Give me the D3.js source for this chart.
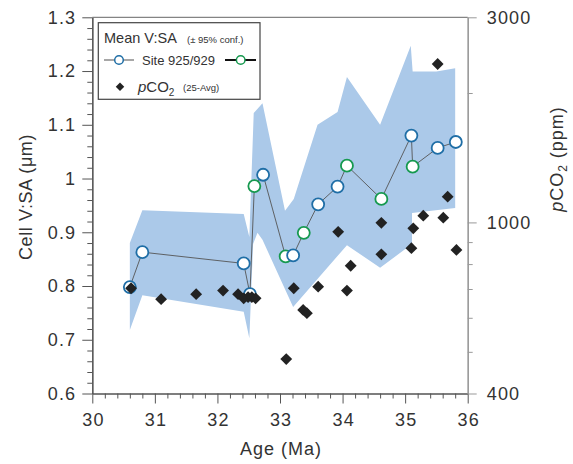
<!DOCTYPE html>
<html>
<head>
<meta charset="utf-8">
<script src="https://cdn.jsdelivr.net/npm/d3@7"></script>
<style>
  body { margin: 0; background: #fff; }
  text { font-family: "Liberation Sans", Arial, Helvetica, sans-serif; fill: #333; }
</style>
</head>
<body>
<div id="chart-area"></div>
<script>
// Data
var ageTicks = [30, 31, 32, 33, 34, 35, 36];
var vsaTicks = [0.6, 0.7, 0.8, 0.9, 1.0, 1.1, 1.2, 1.3];
var co2Ticks = [400, 1000, 3000];
var co2Minor = [500, 600, 700, 800, 900, 2000];

var siteAge = [30.60, 30.80, 32.42, 32.52, 32.59, 32.73, 33.09, 33.21, 33.38, 33.61, 33.92, 34.07, 34.62, 35.10, 35.12, 35.52, 35.81];
var siteVsa = [0.798, 0.863, 0.842, 0.785, 0.986, 1.007, 0.855, 0.857, 0.899, 0.952, 0.985, 1.024, 0.962, 1.080, 1.022, 1.057, 1.068];
var siteId  = ["925", "925", "925", "925", "929", "925", "929", "925", "929", "925", "925", "929", "929", "925", "929", "925", "925"];

var co2Age = [30.62, 31.10, 31.66, 32.09, 32.33, 32.42, 32.49, 32.55, 32.61, 33.10, 33.22, 33.37, 33.43, 33.61, 33.93, 34.07, 34.13, 34.62, 34.62, 35.10, 35.13, 35.29, 35.52, 35.61, 35.68, 35.82];
var co2Ppm = [703, 663, 681, 694, 681, 666, 670, 670, 666, 481, 703, 626, 615, 709, 951, 694, 793, 843, 998, 871, 969, 1037, 2336, 1026, 1148, 863];

var bandUpperAge = [30.60, 30.80, 32.42, 32.51, 32.58, 32.72, 33.08, 33.22, 33.60, 33.92, 34.07, 34.60, 35.09, 35.12, 35.50, 35.80];
var bandUpperVal = [0.880, 0.941, 0.934, 0.891, 1.122, 1.140, 0.940, 0.962, 1.100, 1.124, 1.189, 1.100, 1.247, 1.199, 1.199, 1.205];
var bandLowerAge = [30.60, 30.80, 32.42, 32.51, 32.57, 32.64, 32.72, 33.21, 34.07, 34.60, 35.11, 35.11, 35.80];
var bandLowerVal = [0.718, 0.783, 0.752, 0.703, 0.878, 0.899, 0.886, 0.761, 0.876, 0.834, 0.878, 0.936, 0.945];

var width = 573, height = 464;
var mLeft = 92.3, mRight = 467.7, mTop = 17.3, mBottom = 393.5;

var svg = d3.select("#chart-area").append("svg").attr("width", width).attr("height", height);

// Scales
var x = d3.scaleLinear().domain([30, 36]).range([mLeft, mRight]);
var y = d3.scaleLinear().domain([0.6, 1.3]).range([mBottom, mTop]);
var y2 = d3.scaleLog().domain([400, 3000]).range([mBottom, mTop]);

// Confidence band
var bandPts = bandUpperAge.map((a, i) => [a, bandUpperVal[i]]);
for (var i = bandLowerAge.length - 1; i >= 0; i--) bandPts.push([bandLowerAge[i], bandLowerVal[i]]);
svg.append("path").attr("d", d3.line().x(d => x(d[0])).y(d => y(d[1]))(bandPts) + "Z")
  .attr("fill", "#abc9e9").attr("stroke", "none");

// Axes
function styleAxis(g, col) {
  g.select(".domain").attr("stroke", col).attr("stroke-width", 1.2);
  g.selectAll(".tick line").attr("stroke", col).attr("stroke-width", 1);
  g.selectAll("text").attr("font-size", "18px").attr("font-family", null)
    .style("letter-spacing", "1.2px").style("fill", "#333");
}

var xMinor = d3.range(30, 36.01, 0.2).filter(d => Math.abs(d - Math.round(d)) > 0.01);
svg.append("g").attr("transform", "translate(0," + mBottom + ")")
  .call(d3.axisBottom(x).tickValues(xMinor).tickSize(5).tickFormat("").tickSizeOuter(0))
  .call(g => styleAxis(g, "#555"));
svg.append("g").attr("transform", "translate(0," + mBottom + ")")
  .call(d3.axisBottom(x).tickValues(ageTicks).tickSize(10).tickPadding(10).tickSizeOuter(0).tickFormat(d3.format("d")))
  .call(g => styleAxis(g, "#555"))
  .call(g => g.selectAll("text").attr("dx", "0.6px"));

var yMinor = d3.range(0, 36).map(i => 0.6 + i * 0.02).filter(d => d <= 1.3001 && Math.abs(d * 10 - Math.round(d * 10)) > 0.01);
svg.append("g").attr("transform", "translate(" + mLeft + ",0)")
  .call(d3.axisLeft(y).tickValues(yMinor).tickSize(5).tickFormat("").tickSizeOuter(0))
  .call(g => styleAxis(g, "#555"));
svg.append("g").attr("transform", "translate(" + mLeft + ",0)")
  .call(d3.axisLeft(y).tickValues(vsaTicks).tickSize(10).tickPadding(6).tickSizeOuter(0).tickFormat(d3.format("~g")))
  .call(g => styleAxis(g, "#555"));

svg.append("g").attr("transform", "translate(" + mRight + ",0)")
  .call(d3.axisRight(y2).tickValues(co2Minor).tickSize(5).tickFormat("").tickSizeOuter(0))
  .call(g => styleAxis(g, "#999"));
svg.append("g").attr("transform", "translate(" + mRight + ",0)")
  .call(d3.axisRight(y2).tickValues(co2Ticks).tickSize(9).tickPadding(10).tickSizeOuter(0).tickFormat(d3.format("d")))
  .call(g => styleAxis(g, "#999"));

// top frame line
svg.append("line").attr("x1", mLeft).attr("x2", mRight).attr("y1", mTop).attr("y2", mTop)
  .attr("stroke", "#666").attr("stroke-width", 1);

// Labels
svg.append("text").attr("x", 281).attr("y", 455).attr("text-anchor", "middle").attr("font-size", "18px")
  .style("letter-spacing", "1px").text("Age (Ma)");
svg.append("text").attr("transform", "translate(31.5,197) rotate(-90)").attr("text-anchor", "middle")
  .attr("font-size", "18px").style("letter-spacing", "0.6px").text("Cell V:SA (\u03bcm)");
var r2 = svg.append("text").attr("transform", "translate(563,159) rotate(-90)").attr("text-anchor", "middle")
  .attr("font-size", "18px").style("letter-spacing", "1px");
r2.append("tspan").attr("font-style", "italic").text("p");
r2.append("tspan").text("CO");
r2.append("tspan").attr("font-size", "12px").attr("dy", 4).text("2");
r2.append("tspan").attr("dy", -4).text(" (ppm)");

// Site line and circles
var pts = siteAge.map((a, i) => ({age: a, v: siteVsa[i], site: siteId[i]}));
svg.append("path").attr("d", d3.line().x(d => x(d.age)).y(d => y(d.v))(pts))
  .attr("fill", "none").attr("stroke", "#555").attr("stroke-width", 0.9);

var colors = {"925": "#1f6ea6", "929": "#16994f"};
svg.selectAll("circle.site").data(pts).enter().append("circle").attr("class", "site")
  .attr("cx", d => x(d.age)).attr("cy", d => y(d.v)).attr("r", 6)
  .attr("fill", "#fff").attr("stroke", d => colors[d.site]).attr("stroke-width", 1.8);

// pCO2 diamonds
var diamond = d3.symbol().type(d3.symbolSquare).size(70);
svg.selectAll("path.co2").data(co2Age).enter().append("path").attr("class", "co2")
  .attr("d", diamond)
  .attr("transform", (d, i) => "translate(" + x(d) + "," + y2(co2Ppm[i]) + ") rotate(45)")
  .attr("fill", "#222");

// Legend
var lg = svg.append("g");
lg.append("rect").attr("x", 98.3).attr("y", 22.7).attr("width", 161.7).attr("height", 76.6)
  .attr("fill", "#fff").attr("stroke", "#444").attr("stroke-width", 1.2);
lg.append("text").attr("x", 104).attr("y", 43.3).attr("font-size", "14.5px").text("Mean V:SA");
lg.append("text").attr("x", 187).attr("y", 43.3).attr("font-size", "9.5px").text("(\u00b1 95% conf.)");

lg.append("line").attr("x1", 104).attr("x2", 134).attr("y1", 60).attr("y2", 60).attr("stroke", "#777").attr("stroke-width", 1.3);
lg.append("circle").attr("cx", 119).attr("cy", 60).attr("r", 4.3).attr("fill", "#fff").attr("stroke", colors["925"]).attr("stroke-width", 1.5);
lg.append("text").attr("x", 142).attr("y", 64.5).attr("font-size", "13px").text("Site 925/929");
lg.append("line").attr("x1", 225).attr("x2", 256).attr("y1", 60).attr("y2", 60).attr("stroke", "#111").attr("stroke-width", 2);
lg.append("circle").attr("cx", 240.7).attr("cy", 60).attr("r", 4.3).attr("fill", "#fff").attr("stroke", colors["929"]).attr("stroke-width", 1.5);

lg.append("path").attr("d", d3.symbol().type(d3.symbolSquare).size(36))
  .attr("transform", "translate(120,86.7) rotate(45)").attr("fill", "#222");
var lt = lg.append("text").attr("x", 138).attr("y", 91.7).attr("font-size", "15px");
lt.append("tspan").attr("font-style", "italic").text("p");
lt.append("tspan").text("CO");
lt.append("tspan").attr("font-size", "10px").attr("dy", 4).text("2");
lg.append("text").attr("x", 183).attr("y", 91).attr("font-size", "9.5px").text("(25-Avg)");
</script>
</body>
</html>
